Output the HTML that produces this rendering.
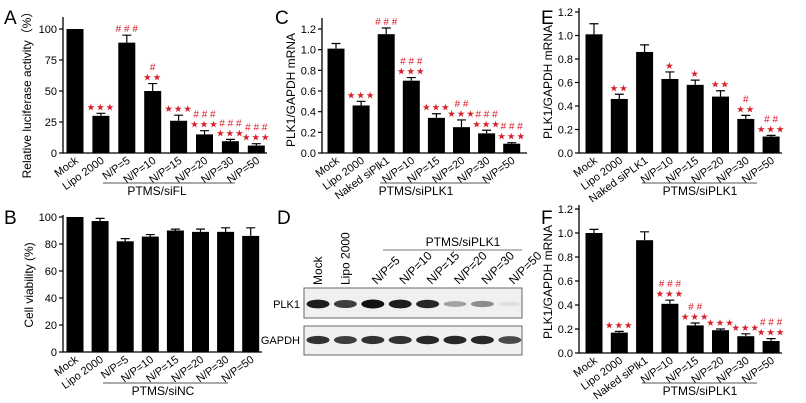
<!DOCTYPE html>
<html><head><meta charset="utf-8"><style>
html,body{margin:0;padding:0;background:#fff}
svg{display:block;font-family:"Liberation Sans",Arial,sans-serif}
</style></head><body>
<svg id="fig" width="806" height="403" viewBox="0 0 806 403"></svg>
<script>
// ---------- data ----------
const catsA = ["Mock","Lipo 2000","N/P=5","N/P=10","N/P=15","N/P=20","N/P=30","N/P=50"];
const valsA = [100,30,89,50,26,15,9.5,6];
const errA  = [0,2,6,6,4.5,3,1.5,1.5];
const starsA = ["","★★★","","★★","★★★","★★★","★★★","★★★"];
const hashA  = ["","","###","#","","###","###","###"];
const ticksA = [0,25,50,75,100];

const catsB = ["Mock","Lipo 2000","N/P=5","N/P=10","N/P=15","N/P=20","N/P=30","N/P=50"];
const valsB = [100,97,82,85.5,90,89,89,86];
const errB  = [0,2,2,1.5,1,2,3,6];
const ticksB = [0,20,40,60,80,100];

const catsC = ["Mock","Lipo 2000","Naked siPlk1","N/P=10","N/P=15","N/P=20","N/P=30","N/P=50"];
const valsC = [1.01,0.46,1.15,0.70,0.34,0.25,0.19,0.09];
const errC  = [0.05,0.04,0.06,0.03,0.04,0.07,0.03,0.01];
const starsC = ["","★★★","","★★★","★★★","★★★","★★★","★★★"];
const hashC  = ["","","###","###","","##","###","###"];
const ticksC = [0,0.2,0.4,0.6,0.8,1.0,1.2];

const catsE = ["Mock","Lipo 2000","Naked siPLK1","N/P=10","N/P=15","N/P=20","N/P=30","N/P=50"];
const valsE = [1.01,0.46,0.86,0.63,0.58,0.48,0.29,0.14];
const errE  = [0.09,0.04,0.06,0.06,0.04,0.05,0.03,0.01];
const starsE = ["","★★","","★","★","★★","★★","★★★"];
const hashE  = ["","","","","","","#","##"];

const catsF = ["Mock","Lipo 2000","Naked siPlk1","N/P=10","N/P=15","N/P=20","N/P=30","N/P=50"];
const valsF = [1.0,0.17,0.94,0.41,0.23,0.19,0.14,0.10];
const errF  = [0.03,0.01,0.07,0.03,0.02,0.01,0.02,0.02];
const starsF = ["","★★★","","★★★","★★★","★★★","★★★","★★★"];
const hashF  = ["","","","###","##","","","###"];

const lanesD = ["Mock","Lipo 2000","N/P=5","N/P=10","N/P=15","N/P=20","N/P=30","N/P=50"];
const plk1D  = [0.95,0.8,1.0,0.95,0.9,0.35,0.45,0.08];
const gapdhD = [0.85,0.8,0.85,0.85,0.9,0.9,0.9,0.75];

// ---------- helpers ----------
const svg = document.getElementById('fig');
const NS = "http://www.w3.org/2000/svg";
function mk(tag, at, parent){
  const e = document.createElementNS(NS, tag);
  for (const k in at) e.setAttribute(k, at[k]);
  (parent||svg).appendChild(e);
  return e;
}
function txt(s, at, parent){ const e = mk('text', at, parent); e.textContent = s; return e; }

function panel(o){
  const g = mk('g', {});
  
  
  const y = v => o.y0 - (v - o.min) / (o.max - o.min) * (o.y0 - o.yTop);
  const x = i => o.x0 + i * o.step;
  const ax = mk('path', {d:`M${o.ax} ${o.axTop} V${o.y0} H${o.axRight}`, stroke:'#000', 'stroke-width':1.3, fill:'none'}, g);
  
  
  o.ticks.forEach(t => {
    mk('line', {x1:o.ax-4, x2:o.ax, y1:y(t), y2:y(t), stroke:'#000', 'stroke-width':1.2}, g);
    const l = txt(o.fmt(t), {x:o.ax-6, y:y(t)+4, 'font-size':11, 'text-anchor':'end'}, g);
    
    
  });
  const yl = txt(o.ylabel, {x:0, y:0, 'font-size':12, 'text-anchor':'middle', transform:`translate(${o.ylx},${o.yly}) rotate(-90)`}, g);
  
  
  o.cats.forEach((c, i) => {
    const cx = x(i), top = y(o.vals[i]), w = o.bw;
    const b = mk('rect', {x:cx-w/2, y:top, width:w, height:o.y0-top, fill:'#000'}, g);
    
    
    let et = top;
    if (o.err[i] > 0) {
      et = y(o.vals[i] + o.err[i]);
      mk('path', {d:`M${cx} ${top} V${et} M${cx-4.5} ${et} H${cx+4.5}`, stroke:'#000', 'stroke-width':1.2}, g);
    }
    const lab = txt(c, {x:0, y:0, 'font-size':11, 'text-anchor':'end', transform:`translate(${cx+4},${o.y0+9}) rotate(-36)`}, g);
    
    
    let ay = et - 3;
    if (o.stars && o.stars[i]) {
      const s = txt(o.stars[i], {x:cx, y:ay, 'font-size':9.5, fill:'#d8202a', 'text-anchor':'middle', 'letter-spacing':1}, g);
      
      
      ay -= 10;
    }
    if (o.hash && o.hash[i]) {
      const h = txt(o.hash[i].split('').join(' '), {x:cx, y:ay, 'font-size':10, fill:'#d8202a', 'text-anchor':'middle'}, g);
      
      
    }
  });
  mk('line', {x1:o.ulx1, x2:o.ulx2, y1:o.uly, y2:o.uly, stroke:'#555', 'stroke-width':1}, g);
  const gt = txt(o.group, {x:o.gx, y:o.uly+12, 'font-size':12, 'text-anchor':'middle'}, g);
  
  
  const pl = txt(o.letter, {x:o.lx, y:o.ly, 'font-size':19}, g);
  
  
}

const f0 = t => String(t), f1 = t => t.toFixed(1);

panel({name:'panel-a', letter:'A', lx:4, ly:24, cats:catsA, vals:valsA, err:errA, stars:starsA, hash:hashA,
  ticks:ticksA, fmt:f0, min:0, max:100, y0:153, yTop:29, axTop:17, ax:63, axRight:267, x0:75, step:25.9, bw:17,
  ylabel:'Relative luciferase activity（%）', ylx:31, yly:92, ulx1:103, ulx2:235, uly:183, group:'PTMS/siFL', gx:157});
panel({name:'panel-b', letter:'B', lx:4, ly:224, cats:catsB, vals:valsB, err:errB,
  ticks:ticksB, fmt:f0, min:0, max:100, y0:352, yTop:217, axTop:215, ax:63, axRight:262, x0:75, step:25.1, bw:17,
  ylabel:'Cell viability (%)', ylx:33, yly:285, ulx1:103, ulx2:228, uly:383, group:'PTMS/siNC', gx:163});
panel({name:'panel-c', letter:'C', lx:275, ly:24, cats:catsC, vals:valsC, err:errC, stars:starsC, hash:hashC,
  ticks:ticksC, fmt:f1, min:0, max:1.2, y0:153, yTop:29, axTop:18, ax:322, axRight:527, x0:336, step:25.1, bw:17,
  ylabel:'PLK1/GAPDH mRNA', ylx:295, yly:90, ulx1:380, ulx2:490, uly:183, group:'PTMS/siPLK1', gx:416});
panel({name:'panel-e', letter:'E', lx:541, ly:24, cats:catsE, vals:valsE, err:errE, stars:starsE, hash:hashE,
  ticks:ticksC, fmt:f1, min:0, max:1.2, y0:153, yTop:12, axTop:8, ax:579, axRight:782, x0:594, step:25.3, bw:17,
  ylabel:'PLK1/GAPDH mRNA', ylx:552, yly:82, ulx1:642, ulx2:757, uly:183, group:'PTMS/siPLK1', gx:700});
panel({name:'panel-f', letter:'F', lx:541, ly:224, cats:catsF, vals:valsF, err:errF, stars:starsF, hash:hashF,
  ticks:ticksC, fmt:f1, min:0, max:1.2, y0:353, yTop:209, axTop:205, ax:579, axRight:782, x0:594, step:25.3, bw:17,
  ylabel:'PLK1/GAPDH mRNA', ylx:552, yly:282, ulx1:642, ulx2:757, uly:383, group:'PTMS/siPLK1', gx:700});

// ---------- panel D (western blot) ----------
(function(){
  const g = mk('g', {});
  
  
  const pl = txt('D', {x:277, y:224, 'font-size':19}, g);
  
  
  const lane = i => 318 + i * 27.4;
  const boxes = [[288,318,plk1D,304,'PLK1'],[326,355,gapdhD,340,'GAPDH']];
  boxes.forEach(([y1,y2,arr,by,name]) => {
    const r = mk('rect', {x:304, y:y1, width:218, height:y2-y1, fill:'#f0f0f0', stroke:'#666', 'stroke-width':1}, g);
    
    
    const l = txt(name, {x:300, y:by+4, 'font-size':11, 'text-anchor':'end'}, g);
    
    
    arr.forEach((v, i) => {
      const b = mk('ellipse', {cx:lane(i), cy:by, rx:11.5, ry:2 + v*2.5, fill:'#111', opacity:v}, g);
      
      
    });
  });
  lanesD.forEach((c, i) => {
    const vertical = i < 2;
    const t = txt(c, {x:0, y:0, 'font-size':12, 'text-anchor':'start',
      transform:`translate(${lane(i)+4},${285}) rotate(${vertical?-90:-45})`}, g);
    
    
  });
  mk('line', {x1:383, x2:522, y1:250, y2:250, stroke:'#777', 'stroke-width':1}, g);
  const gt = txt('PTMS/siPLK1', {x:463, y:246, 'font-size':12, 'text-anchor':'middle'}, g);
  
  
})();
</script>
</body></html>
